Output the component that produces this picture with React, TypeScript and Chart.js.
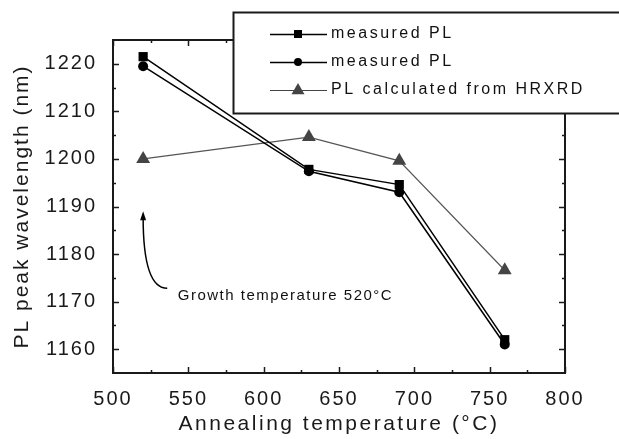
import { useEffect, useRef } from "react";
import { Chart, registerables } from "chart.js";

Chart.register(...registerables);

// ---- data ----
const temperatures = [520, 630, 690, 760];
const measuredPL1 = [1221.5, 1197.8, 1194.6, 1162];
const measuredPL2 = [1219.5, 1197.4, 1193, 1161];
const calculatedPL = [1200, 1204.6, 1199.6, 1176.6];
const seriesLabels = ["measured PL", "measured PL", "PL calculated from HRXRD"];

const xTickValues = [500, 550, 600, 650, 700, 750, 800];
const xMinorValues = [525, 575, 625, 675, 725, 775];
const yTickValues = [1160, 1170, 1180, 1190, 1200, 1210, 1220];
const yMinorValues = [1165, 1175, 1185, 1195, 1205, 1215];

const xTitle = "Annealing temperature (°C)";
const yTitle = "PL peak wavelength (nm)";
const annotationText = "Growth temperature 520°C";
const arrowTip = { x: 520, y: 1189 };
const arrowEnd = { x: 536, y: 1172.8 };
const annotationPos = { x: 543, y: 1171.2 };

const FONT = "'Liberation Sans', Arial, sans-serif";

function drawMarker(ctx: CanvasRenderingContext2D, style: string, x: number, y: number, s: number, color: string) {
  ctx.save();
  ctx.fillStyle = color;
  ctx.beginPath();
  if (style === "rect") {
    ctx.rect(x - s / 2, y - s / 2, s, s);
  } else if (style === "circle") {
    ctx.arc(x, y, s / 2, 0, Math.PI * 2);
  } else {
    const h = s * 0.87;
    ctx.moveTo(x, y - h * 0.62);
    ctx.lineTo(x + s / 2, y + h * 0.38);
    ctx.lineTo(x - s / 2, y + h * 0.38);
    ctx.closePath();
  }
  ctx.fill();
  ctx.restore();
}

const decor = {
  id: "decor",
  beforeDraw(chart: any) {
    chart.ctx.letterSpacing = "2px";
  },
  afterDatasetsDraw(chart: any) {
    const ctx: CanvasRenderingContext2D = chart.ctx;
    const { left, right, top, bottom } = chart.chartArea;
    const xs = chart.scales.x;
    const ys = chart.scales.y;
    ctx.save();
    ctx.strokeStyle = "#1a1a1a";
    ctx.lineWidth = 2;
    ctx.strokeRect(left, top, right - left, bottom - top);
    ctx.lineWidth = 1.5;
    ctx.beginPath();
    const xt = (vals: number[], len: number) => {
      vals.forEach((v) => {
        const px = Math.round(xs.getPixelForValue(v)) + 0.5;
        ctx.moveTo(px, bottom);
        ctx.lineTo(px, bottom - len);
        ctx.moveTo(px, top);
        ctx.lineTo(px, top + len);
      });
    };
    const yt = (vals: number[], len: number) => {
      vals.forEach((v) => {
        const py = Math.round(ys.getPixelForValue(v)) + 0.5;
        ctx.moveTo(left, py);
        ctx.lineTo(left + len, py);
        ctx.moveTo(right, py);
        ctx.lineTo(right - len, py);
      });
    };
    xt(xTickValues, 6);
    xt(xMinorValues, 3);
    yt(yTickValues, 6);
    yt(yMinorValues, 3);
    ctx.stroke();

    // annotation arrow
    const tx = xs.getPixelForValue(arrowTip.x);
    const ty = ys.getPixelForValue(arrowTip.y);
    const ex = xs.getPixelForValue(arrowEnd.x);
    const ey = ys.getPixelForValue(arrowEnd.y);
    ctx.strokeStyle = "#000";
    ctx.lineWidth = 1.5;
    ctx.beginPath();
    ctx.moveTo(ex, ey);
    ctx.quadraticCurveTo(tx, ey, tx, ty + 6);
    ctx.stroke();
    ctx.fillStyle = "#000";
    ctx.beginPath();
    ctx.moveTo(tx, ty);
    ctx.lineTo(tx + 3, ty + 9);
    ctx.lineTo(tx - 3, ty + 9);
    ctx.closePath();
    ctx.fill();

    ctx.font = `15px ${FONT}`;
    ctx.letterSpacing = "1.5px";
    ctx.textAlign = "left";
    ctx.textBaseline = "middle";
    ctx.fillStyle = "#111";
    ctx.fillText(annotationText, xs.getPixelForValue(annotationPos.x), ys.getPixelForValue(annotationPos.y));
    ctx.restore();
  },
  afterDraw(chart: any) {
    const ctx: CanvasRenderingContext2D = chart.ctx;
    const { left, right, top, bottom } = chart.chartArea;
    ctx.save();
    // titles
    ctx.fillStyle = "#1a1a1a";
    ctx.font = `21px ${FONT}`;
    ctx.letterSpacing = "2.5px";
    ctx.textAlign = "center";
    ctx.textBaseline = "middle";
    ctx.fillText(xTitle, (left + right) / 2, 424);
    ctx.save();
    ctx.translate(22, (top + bottom) / 2);
    ctx.rotate(-Math.PI / 2);
    ctx.letterSpacing = "2px";
    ctx.fillText(yTitle, 0, 0);
    ctx.restore();

    // legend box
    const bx = 233.5, by = 12.5, bw = 420, bh = 101;
    ctx.fillStyle = "#fff";
    ctx.fillRect(bx, by, bw, bh);
    ctx.strokeStyle = "#1a1a1a";
    ctx.lineWidth = 2;
    ctx.strokeRect(bx, by, bw, bh);

    const rows = [34, 62, 90];
    const styles = ["rect", "circle", "triangle"];
    const colors = ["#000", "#000", "#444"];
    const sizes = [8, 8, 13];
    rows.forEach((ry, i) => {
      ctx.strokeStyle = colors[i];
      ctx.lineWidth = i === 2 ? 1.2 : 1.5;
      ctx.beginPath();
      ctx.moveTo(270, ry + 0.5);
      ctx.lineTo(327, ry + 0.5);
      ctx.stroke();
      drawMarker(ctx, styles[i], 298, ry, sizes[i], colors[i]);
      ctx.fillStyle = "#111";
      ctx.font = `16px ${FONT}`;
      ctx.letterSpacing = "2.5px";
      ctx.textAlign = "left";
      ctx.textBaseline = "middle";
      ctx.fillText(seriesLabels[i], 331, ry);
    });
    ctx.restore();
  },
};

export default function App() {
  const ref = useRef<HTMLCanvasElement>(null);
  useEffect(() => {
    const canvas = ref.current!;
    const mk = (ys: number[]) => temperatures.map((t, i) => ({ x: t, y: ys[i] }));
    const chart = new Chart(canvas, {
      type: "line",
      data: {
        datasets: [
          {
            label: seriesLabels[0],
            data: mk(measuredPL1),
            borderColor: "#000",
            backgroundColor: "#000",
            borderWidth: 1.5,
            pointStyle: "rect",
            pointRadius: 6.5,
            pointBorderWidth: 0,
          },
          {
            label: seriesLabels[1],
            data: mk(measuredPL2),
            borderColor: "#000",
            backgroundColor: "#000",
            borderWidth: 1.5,
            pointStyle: "circle",
            pointRadius: 5,
            pointBorderWidth: 0,
          },
          {
            label: seriesLabels[2],
            data: mk(calculatedPL),
            borderColor: "#555",
            backgroundColor: "#444",
            borderWidth: 1.2,
            pointStyle: "triangle",
            pointRadius: 8,
            pointBorderWidth: 0,
          },
        ],
      },
      options: {
        animation: false,
        responsive: false,
        devicePixelRatio: 1,
        layout: { padding: { left: 0, top: 40, right: 54, bottom: 0 } },
        plugins: { legend: { display: false }, tooltip: { enabled: false } },
        scales: {
          x: {
            type: "linear",
            min: 500,
            max: 800,
            afterFit: (s: any) => {
              s.height = 66;
            },
            afterBuildTicks: (s: any) => {
              s.ticks = xTickValues.map((v) => ({ value: v }));
            },
            grid: { display: false },
            border: { display: false },
            ticks: {
              autoSkip: false,
              maxRotation: 0,
              padding: 6,
              color: "#1a1a1a",
              font: { family: FONT, size: 20 },
              callback: (v: any) => String(v),
            },
          },
          y: {
            type: "linear",
            min: 1155,
            max: 1225,
            afterFit: (s: any) => {
              s.width = 113;
            },
            afterBuildTicks: (s: any) => {
              s.ticks = yTickValues.map((v) => ({ value: v }));
            },
            grid: { display: false },
            border: { display: false },
            ticks: {
              autoSkip: false,
              padding: 8,
              color: "#1a1a1a",
              font: { family: FONT, size: 20 },
              callback: (v: any) => String(v),
            },
          },
        },
      },
      plugins: [decor],
    } as any);
    return () => chart.destroy();
  }, []);
  return (
    <div style={{ position: "fixed", left: 0, top: 0, width: 619, height: 439, background: "#fff" }}>
      <canvas ref={ref} width={619} height={439} style={{ width: 619, height: 439, display: "block" }} />
    </div>
  );
}
